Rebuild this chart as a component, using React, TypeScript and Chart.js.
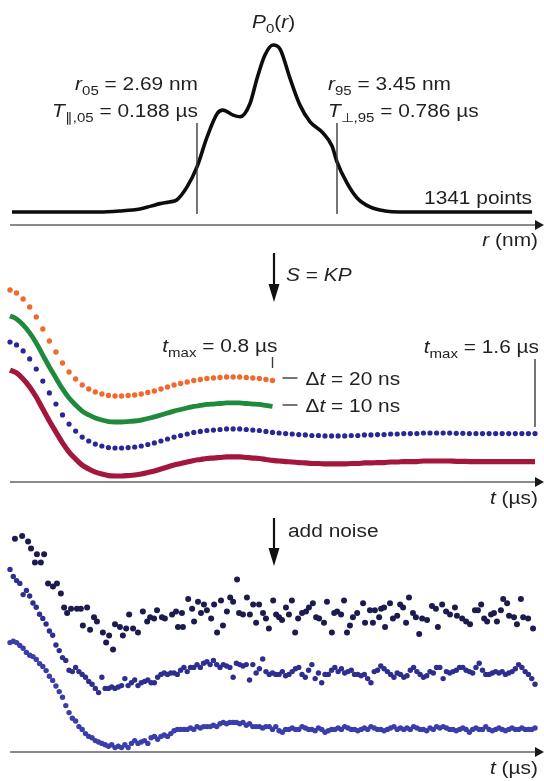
import React, { useEffect, useRef } from 'react';
import { Chart, registerables } from 'chart.js';

Chart.register(...registerables);

// ---------- DATA ----------
// Panel 1: distance distribution P0(r)
const rNm = [1.686, 1.95, 2.16, 2.27, 2.38, 2.44, 2.49, 2.54, 2.58, 2.636, 2.69, 2.745, 2.8, 2.83, 2.886, 2.924, 2.978, 3.016, 3.059, 3.103, 3.141, 3.195, 3.249, 3.304, 3.374, 3.423, 3.45, 3.504, 3.559, 3.629, 3.711, 3.79, 4.0, 4.509];
const p0 = [0, 0, 0, 0.006, 0.018, 0.035, 0.05, 0.06, 0.072, 0.15, 0.27, 0.45, 0.59, 0.61, 0.58, 0.57, 0.65, 0.8, 0.94, 1.0, 0.976, 0.8, 0.64, 0.54, 0.473, 0.395, 0.3, 0.174, 0.084, 0.03, 0.006, 0, 0, 0];
const r05 = 2.69;
const r95 = 3.45;
const pointCount = 1341;

// Panel 2: noise-free signal S = KP, sampled every 20 ns (µs units)
const dt20 = 0.02;
const tMaxShort = 0.8;
const tMaxLong = 1.6;
const signalS = [
  1.0, 0.979, 0.936, 0.879, 0.807, 0.721, 0.636, 0.557, 0.479, 0.414,
  0.364, 0.321, 0.293, 0.271, 0.257, 0.246, 0.243, 0.243, 0.246, 0.25,
  0.257, 0.268, 0.279, 0.293, 0.307, 0.321, 0.332, 0.343, 0.354, 0.361,
  0.368, 0.371, 0.375, 0.379, 0.379, 0.379, 0.375, 0.371, 0.368, 0.361,
  0.354, 0.35, 0.346, 0.343, 0.339, 0.336, 0.332, 0.332, 0.329, 0.329,
  0.329, 0.329, 0.332, 0.332, 0.336, 0.336, 0.339, 0.339, 0.343, 0.343,
  0.346, 0.346, 0.346, 0.35, 0.35, 0.35, 0.35, 0.35, 0.348, 0.348,
  0.346, 0.346, 0.346, 0.346, 0.346, 0.346, 0.346, 0.346, 0.346, 0.346,
  0.346,
];

// Panel 3: noisy signals
const noisyTop: [number, number][] = [
  [0.015, 0.88], [0.037, 0.9], [0.055, 0.86], [0.064, 0.81], [0.076, 0.71], [0.082, 0.77], [0.094, 0.71], [0.104, 0.77],
  [0.116, 0.56], [0.131, 0.54], [0.143, 0.56], [0.155, 0.49], [0.165, 0.39], [0.174, 0.35], [0.186, 0.38], [0.204, 0.38],
  [0.216, 0.38], [0.222, 0.26], [0.235, 0.39], [0.244, 0.23], [0.256, 0.32], [0.265, 0.29], [0.283, 0.21], [0.293, 0.14],
  [0.302, 0.19], [0.314, 0.09], [0.32, 0.27], [0.335, 0.25], [0.344, 0.19], [0.354, 0.24], [0.363, 0.34], [0.375, 0.24],
  [0.39, 0.21], [0.405, 0.36], [0.418, 0.29], [0.427, 0.32], [0.439, 0.31], [0.448, 0.37], [0.463, 0.32], [0.472, 0.31],
  [0.494, 0.34], [0.506, 0.36], [0.512, 0.25], [0.524, 0.35], [0.527, 0.25], [0.543, 0.45], [0.555, 0.38], [0.561, 0.29],
  [0.573, 0.43], [0.582, 0.35], [0.591, 0.41], [0.6, 0.37], [0.613, 0.31], [0.622, 0.41], [0.631, 0.21], [0.643, 0.44],
  [0.649, 0.26], [0.661, 0.36], [0.671, 0.46], [0.68, 0.43], [0.692, 0.59], [0.698, 0.35], [0.71, 0.34], [0.722, 0.46],
  [0.731, 0.34], [0.741, 0.41], [0.75, 0.28], [0.759, 0.41], [0.771, 0.35], [0.78, 0.31], [0.789, 0.24], [0.802, 0.44],
  [0.811, 0.34], [0.82, 0.32], [0.829, 0.3], [0.841, 0.39], [0.85, 0.34], [0.859, 0.44], [0.869, 0.21], [0.878, 0.31],
  [0.89, 0.35], [0.902, 0.36], [0.911, 0.39], [0.923, 0.42], [0.933, 0.32], [0.942, 0.31], [0.957, 0.28], [0.966, 0.43],
  [0.981, 0.21], [0.988, 0.35], [0.997, 0.36], [1.009, 0.34], [1.018, 0.44], [1.027, 0.21], [1.036, 0.26], [1.045, 0.32],
  [1.058, 0.35], [1.076, 0.42], [1.082, 0.28], [1.097, 0.37], [1.106, 0.28], [1.112, 0.37], [1.125, 0.32], [1.131, 0.38],
  [1.14, 0.39], [1.143, 0.25], [1.158, 0.42], [1.167, 0.31], [1.18, 0.33], [1.189, 0.41], [1.198, 0.39], [1.207, 0.28],
  [1.216, 0.46], [1.228, 0.35], [1.237, 0.32], [1.247, 0.2], [1.256, 0.31], [1.271, 0.3], [1.286, 0.4], [1.298, 0.38],
  [1.304, 0.25], [1.317, 0.41], [1.329, 0.36], [1.341, 0.34], [1.356, 0.39], [1.362, 0.33], [1.378, 0.31], [1.39, 0.29],
  [1.402, 0.27], [1.417, 0.37], [1.426, 0.37], [1.436, 0.41], [1.445, 0.31], [1.454, 0.29], [1.466, 0.34], [1.475, 0.35],
  [1.484, 0.29], [1.496, 0.37], [1.503, 0.45], [1.515, 0.42], [1.521, 0.33], [1.536, 0.32], [1.545, 0.27], [1.557, 0.45],
  [1.564, 0.32], [1.579, 0.31], [1.594, 0.24],
];
const dt10 = 0.01;
const noisyMid = [
  1.09, 1.04, 1.01, 0.99, 0.91, 0.94, 0.9, 0.85, 0.82, 0.77,
  0.74, 0.7, 0.65, 0.62, 0.55, 0.51, 0.46, 0.44, 0.37, 0.36,
  0.39, 0.36, 0.34, 0.32, 0.29, 0.27, 0.24, 0.21, 0.32, 0.24,
  0.24, 0.25, 0.24, 0.25, 0.26, 0.31, 0.26, 0.28, 0.3, 0.26,
  0.28, 0.29, 0.3, 0.28, 0.28, 0.32, 0.34, 0.35, 0.34, 0.35,
  0.35, 0.34, 0.37, 0.39, 0.36, 0.39, 0.39, 0.41, 0.39, 0.42,
  0.43, 0.41, 0.44, 0.41, 0.39, 0.41, 0.4, 0.39, 0.32, 0.42,
  0.41, 0.4, 0.41, 0.3, 0.41, 0.35, 0.38, 0.45, 0.36, 0.34,
  0.35, 0.34, 0.34, 0.36, 0.33, 0.34, 0.36, 0.38, 0.39, 0.34,
  0.32, 0.37, 0.41, 0.31, 0.35, 0.28, 0.34, 0.34, 0.37, 0.39,
  0.36, 0.38, 0.35, 0.36, 0.37, 0.34, 0.34, 0.33, 0.34, 0.31,
  0.28, 0.36, 0.37, 0.4, 0.38, 0.36, 0.34, 0.32, 0.35, 0.34,
  0.32, 0.33, 0.37, 0.39, 0.36, 0.34, 0.32, 0.33, 0.36, 0.35,
  0.39, 0.39, 0.31, 0.36, 0.35, 0.36, 0.37, 0.39, 0.39, 0.37,
  0.36, 0.35, 0.39, 0.42, 0.37, 0.34, 0.34, 0.35, 0.36, 0.35,
  0.36, 0.34, 0.35, 0.36, 0.38, 0.41, 0.39, 0.36, 0.34, 0.31,
  0.27,
];
const noisyLow = [
  0.96, 0.97, 0.96, 0.94, 0.92, 0.89, 0.87, 0.86, 0.84, 0.81,
  0.79, 0.76, 0.72, 0.69, 0.65, 0.61, 0.57, 0.51, 0.46, 0.42,
  0.4, 0.36, 0.34, 0.31, 0.29, 0.28, 0.26, 0.25, 0.24, 0.23,
  0.22, 0.23, 0.21, 0.22, 0.21, 0.23, 0.21, 0.24, 0.26, 0.24,
  0.25, 0.26, 0.24, 0.28, 0.29, 0.27, 0.29, 0.3, 0.29, 0.31,
  0.33, 0.34, 0.34, 0.34, 0.34, 0.35, 0.34, 0.36, 0.35, 0.36,
  0.36, 0.36, 0.37, 0.36, 0.38, 0.39, 0.38, 0.39, 0.39, 0.39,
  0.38, 0.39, 0.37, 0.38, 0.36, 0.36, 0.36, 0.35, 0.36, 0.36,
  0.34, 0.36, 0.33, 0.32, 0.34, 0.34, 0.35, 0.34, 0.34, 0.36,
  0.35, 0.34, 0.34, 0.33, 0.35, 0.34, 0.32, 0.33, 0.34, 0.34,
  0.35, 0.34, 0.36, 0.35, 0.34, 0.34, 0.33, 0.34, 0.35, 0.34,
  0.36, 0.35, 0.34, 0.34, 0.33, 0.34, 0.35, 0.36, 0.34, 0.35,
  0.34, 0.35, 0.34, 0.36, 0.35, 0.34, 0.34, 0.33, 0.35, 0.34,
  0.36, 0.35, 0.36, 0.35, 0.34, 0.34, 0.33, 0.34, 0.35, 0.34,
  0.32, 0.34, 0.35, 0.34, 0.34, 0.36, 0.34, 0.33, 0.34, 0.35,
  0.34, 0.33, 0.34, 0.35, 0.34, 0.34, 0.35, 0.34, 0.34, 0.34,
  0.35,
];

// ---------- STYLE ----------
const FONT_FAMILY = '"Liberation Sans", Arial, Helvetica, sans-serif';
const TEXT_COLOR = '#231f20';
const FS = 18;
const SX = 1.16;
const ORANGE = '#ef6a2c';
const GREEN = '#1f8a3c';
const BLUE = '#272796';
const RED = '#a3173c';
const NAVY = '#1c1b4e';
const MIDBLUE = '#2e2e90';
const LOWBLUE = '#3a3eaa';

type Seg = { t: string; i?: boolean; sub?: boolean };

function segFont(s: Seg) {
  const sz = s.sub ? FS * 0.72 : FS;
  return `${s.i ? 'italic ' : ''}${sz}px ${FONT_FAMILY}`;
}

function drawRich(ctx: CanvasRenderingContext2D, segs: Seg[], x: number, y: number, align: 'left' | 'right' = 'left') {
  let w = 0;
  for (const s of segs) {
    ctx.font = segFont(s);
    w += ctx.measureText(s.t).width * SX;
  }
  let cx = align === 'right' ? x - w : x;
  ctx.save();
  ctx.fillStyle = TEXT_COLOR;
  ctx.textAlign = 'left';
  ctx.textBaseline = 'alphabetic';
  for (const s of segs) {
    ctx.font = segFont(s);
    const sw = ctx.measureText(s.t).width * SX;
    ctx.save();
    ctx.translate(cx, y + (s.sub ? FS * 0.28 : 0));
    ctx.scale(SX, 1);
    ctx.fillText(s.t, 0, 0);
    ctx.restore();
    cx += sw;
  }
  ctx.restore();
}

function drawAxisArrow(ctx: CanvasRenderingContext2D, left: number, right: number, y: number) {
  ctx.save();
  ctx.strokeStyle = '#8a8a8a';
  ctx.lineWidth = 2;
  ctx.beginPath();
  ctx.moveTo(left, y);
  ctx.lineTo(right - 4, y);
  ctx.stroke();
  ctx.fillStyle = '#1a1a1a';
  ctx.beginPath();
  ctx.moveTo(right + 4, y);
  ctx.lineTo(right - 5, y - 5);
  ctx.lineTo(right - 5, y + 5);
  ctx.closePath();
  ctx.fill();
  ctx.restore();
}

function drawDownArrow(ctx: CanvasRenderingContext2D, x: number, y0: number, y1: number) {
  ctx.save();
  ctx.strokeStyle = '#111';
  ctx.lineWidth = 2.2;
  ctx.beginPath();
  ctx.moveTo(x, y0);
  ctx.lineTo(x, y1 - 12);
  ctx.stroke();
  ctx.fillStyle = '#111';
  ctx.beginPath();
  ctx.moveTo(x - 5.5, y1 - 18);
  ctx.lineTo(x + 5.5, y1 - 18);
  ctx.lineTo(x, y1);
  ctx.closePath();
  ctx.fill();
  ctx.restore();
}

function vline(ctx: CanvasRenderingContext2D, x: number, y0: number, y1: number, w = 1.4, color = '#3a3a3a') {
  ctx.save();
  ctx.strokeStyle = color;
  ctx.lineWidth = w;
  ctx.beginPath();
  ctx.moveTo(x, y0);
  ctx.lineTo(x, y1);
  ctx.stroke();
  ctx.restore();
}

function hline(ctx: CanvasRenderingContext2D, x0: number, x1: number, y: number) {
  ctx.save();
  ctx.strokeStyle = '#3a3a3a';
  ctx.lineWidth = 1.4;
  ctx.beginPath();
  ctx.moveTo(x0, y);
  ctx.lineTo(x1, y);
  ctx.stroke();
  ctx.restore();
}

const baseOptions = (padding: any) => ({
  responsive: false,
  animation: false as const,
  events: [] as any[],
  layout: { padding },
  plugins: { legend: { display: false }, tooltip: { enabled: false } },
});

// ---------- CONFIGS ----------
function configA(): any {
  return {
    type: 'scatter',
    data: {
      datasets: [
        {
          label: `P0(r), ${pointCount} points`,
          data: rNm.map((r, i) => ({ x: r, y: p0[i] })),
          showLine: true,
          borderColor: '#0d0d0d',
          borderWidth: 3.6,
          pointRadius: 0,
          cubicInterpolationMode: 'monotone',
          clip: false,
        },
      ],
    },
    options: {
      ...baseOptions({ left: 10, right: 4, top: 30, bottom: 25 }),
      scales: {
        x: { type: 'linear', display: false, min: 1.675, max: 4.552 },
        y: { type: 'linear', display: false, min: -0.078, max: 1.09 },
      },
    },
    plugins: [
      {
        id: 'annA',
        afterDraw(chart: any) {
          const ctx = chart.ctx as CanvasRenderingContext2D;
          const a = chart.chartArea;
          const xs = chart.scales.x;
          drawAxisArrow(ctx, a.left, a.right, a.bottom);
          const x05 = xs.getPixelForValue(r05);
          const x95 = xs.getPixelForValue(r95);
          vline(ctx, x05, 123, 214);
          vline(ctx, x95, 123, 214);
          drawRich(ctx, [{ t: 'P', i: true }, { t: '0', sub: true }, { t: '(' }, { t: 'r', i: true }, { t: ')' }], 252, 28);
          drawRich(ctx, [{ t: 'r', i: true }, { t: '05', sub: true }, { t: ` = ${r05.toFixed(2)} nm` }], x05 + 1, 90, 'right');
          drawRich(ctx, [{ t: 'T', i: true }, { t: '\u2225,05', sub: true }, { t: ' = 0.188 \u00b5s' }], x05 + 1, 117, 'right');
          drawRich(ctx, [{ t: 'r', i: true }, { t: '95', sub: true }, { t: ` = ${r95.toFixed(2)} nm` }], x95 - 9, 90);
          drawRich(ctx, [{ t: 'T', i: true }, { t: '\u22a5,95', sub: true }, { t: ' = 0.786 \u00b5s' }], x95 - 9, 117);
          drawRich(ctx, [{ t: `${pointCount} points` }], 532, 204, 'right');
          drawRich(ctx, [{ t: 'r', i: true }, { t: ' (nm)' }], 538, 246, 'right');
        },
      },
    ],
  };
}

function configB(): any {
  const tAll = signalS.map((_, i) => i * dt20);
  const nShort = Math.round(tMaxShort / dt20) + 1;
  const pts = (n: number) => signalS.slice(0, n).map((v, i) => ({ x: tAll[i], y: v }));
  return {
    type: 'scatter',
    data: {
      datasets: [
        { label: 'dt 20 ns, tmax 0.8', data: pts(nShort), yAxisID: 'yO', pointRadius: 2.7, pointBackgroundColor: ORANGE, pointBorderWidth: 0, clip: false },
        { label: 'dt 10 ns, tmax 0.8', data: pts(nShort), yAxisID: 'yG', showLine: true, borderColor: GREEN, borderWidth: 4.8, pointRadius: 0, cubicInterpolationMode: 'monotone', clip: false },
        { label: 'dt 20 ns, tmax 1.6', data: pts(signalS.length), yAxisID: 'yB', pointRadius: 2.6, pointBackgroundColor: BLUE, pointBorderWidth: 0, clip: false },
        { label: 'dt 10 ns, tmax 1.6', data: pts(signalS.length), yAxisID: 'yR', showLine: true, borderColor: RED, borderWidth: 5.2, pointRadius: 0, cubicInterpolationMode: 'monotone', clip: false },
      ],
    },
    options: {
      ...baseOptions({ left: 10, right: 4, top: 30, bottom: 33 }),
      scales: {
        x: { type: 'linear', display: false, min: 0, max: 1.6152 },
        yO: { type: 'linear', axis: 'y', display: false, min: -0.3714, max: 1.0714 },
        yG: { type: 'linear', axis: 'y', display: false, min: -0.1857, max: 1.2571 },
        yB: { type: 'linear', axis: 'y', display: false, min: 0, max: 1.4429 },
        yR: { type: 'linear', axis: 'y', display: false, min: 0.2, max: 1.6429 },
      },
    },
    plugins: [
      {
        id: 'annB',
        afterDraw(chart: any) {
          const ctx = chart.ctx as CanvasRenderingContext2D;
          const a = chart.chartArea;
          const xs = chart.scales.x;
          drawAxisArrow(ctx, a.left, a.right, a.bottom);
          drawDownArrow(ctx, 274, 3, 52);
          drawRich(ctx, [{ t: 'S', i: true }, { t: ' = ' }, { t: 'KP', i: true }], 286, 31);
          const xS = xs.getPixelForValue(tMaxShort);
          const xL = xs.getPixelForValue(tMaxLong);
          drawRich(ctx, [{ t: 't', i: true }, { t: 'max', sub: true }, { t: ` = ${tMaxShort} \u00b5s` }], xS + 5, 102, 'right');
          vline(ctx, xS, 107, 118);
          hline(ctx, xS + 10, xS + 25, 128);
          drawRich(ctx, [{ t: '\u0394' }, { t: 't', i: true }, { t: ` = ${Math.round(dt20 * 1000)} ns` }], xS + 33, 135);
          hline(ctx, xS + 10, xS + 25, 155);
          drawRich(ctx, [{ t: '\u0394' }, { t: 't', i: true }, { t: ` = ${Math.round(dt10 * 1000)} ns` }], xS + 33, 162);
          drawRich(ctx, [{ t: 't', i: true }, { t: 'max', sub: true }, { t: ` = ${tMaxLong} \u00b5s` }], xL + 4, 103, 'right');
          vline(ctx, xL, 109, 177);
          drawRich(ctx, [{ t: 't', i: true }, { t: ' (\u00b5s)' }], 538, 254, 'right');
        },
      },
    ],
  };
}

function configC(): any {
  return {
    type: 'scatter',
    data: {
      datasets: [
        { label: 'noisy 1', data: noisyTop.map(([t, v]) => ({ x: t, y: v })), yAxisID: 'yTop', pointRadius: 3, pointBackgroundColor: NAVY, pointBorderWidth: 0, clip: false },
        { label: 'noisy 2', data: noisyMid.map((v, i) => ({ x: i * dt10, y: v })), yAxisID: 'yMid', pointRadius: 2.7, pointBackgroundColor: MIDBLUE, pointBorderWidth: 0, clip: false },
        { label: 'noisy 3', data: noisyLow.map((v, i) => ({ x: i * dt10, y: v })), yAxisID: 'yLow', pointRadius: 2.7, pointBackgroundColor: LOWBLUE, pointBorderWidth: 0, clip: false },
      ],
    },
    options: {
      ...baseOptions({ left: 10, right: 4, top: 15, bottom: 29 }),
      scales: {
        x: { type: 'linear', display: false, min: 0, max: 1.6152 },
        yTop: { type: 'linear', axis: 'y', display: false, min: -0.643, max: 0.943 },
        yMid: { type: 'linear', axis: 'y', display: false, min: -0.2143, max: 1.3714 },
        yLow: { type: 'linear', axis: 'y', display: false, min: 0.1786, max: 1.7643 },
      },
    },
    plugins: [
      {
        id: 'annC',
        afterDraw(chart: any) {
          const ctx = chart.ctx as CanvasRenderingContext2D;
          const a = chart.chartArea;
          drawAxisArrow(ctx, a.left, a.right, a.bottom);
          drawDownArrow(ctx, 274, 3, 51);
          drawRich(ctx, [{ t: 'add noise' }], 288, 22);
          drawRich(ctx, [{ t: 't', i: true }, { t: ' (\u00b5s)' }], 538, 259, 'right');
        },
      },
    ],
  };
}

function Panel({ top, height, make }: { top: number; height: number; make: () => any }) {
  const ref = useRef<HTMLCanvasElement | null>(null);
  useEffect(() => {
    if (!ref.current) return;
    const chart = new Chart(ref.current, make());
    return () => chart.destroy();
  }, [make]);
  return (
    <canvas
      ref={ref}
      width={544}
      height={height}
      style={{ position: 'absolute', left: 0, top, width: 544, height, display: 'block' }}
    />
  );
}

export default function App() {
  return (
    <div style={{ position: 'absolute', left: 0, top: 0, width: 544, height: 781, background: '#fff', overflow: 'hidden' }}>
      <Panel top={0} height={250} make={configA} />
      <Panel top={250} height={265} make={configB} />
      <Panel top={515} height={266} make={configC} />
    </div>
  );
}
